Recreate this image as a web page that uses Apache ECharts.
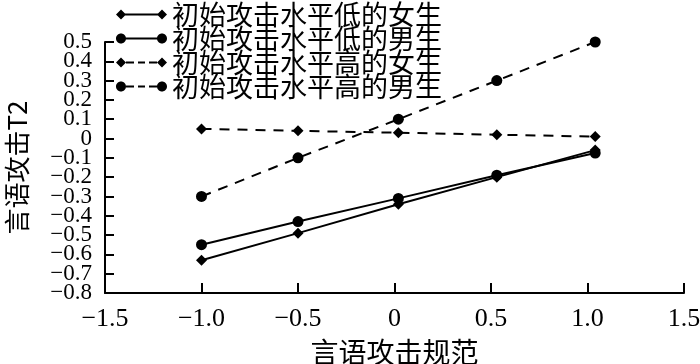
<!DOCTYPE html>
<html>
<head>
<meta charset="utf-8">
<script src="https://cdn.jsdelivr.net/npm/echarts@6/dist/echarts.min.js"></script>
<style>html,body{margin:0;padding:0;background:#fff}#c{width:700px;height:364px}</style>
</head>
<body>
<div id="c"></div>
<script>
// ---- data ----
const seriesNames = ['初始攻击水平低的女生', '初始攻击水平低的男生', '初始攻击水平高的女生', '初始攻击水平高的男生'];
const xValues = [-1.0, -0.5, 0.02, 0.53, 1.04];
const lowFemale = [-0.63, -0.49, -0.34, -0.20, -0.06];
const lowMale = [-0.55, -0.43, -0.31, -0.19, -0.075];
const highFemale = [0.05, 0.04, 0.03, 0.02, 0.01];
const highMale = [-0.30, -0.10, 0.10, 0.30, 0.50];
const xTickLabels = ['−1.5', '−1.0', '−0.5', '0', '0.5', '1.0', '1.5'];
const yTickLabels = ['−0.8', '−0.7', '−0.6', '−0.5', '−0.4', '−0.3', '−0.2', '−0.1', '0', '0.1', '0.2', '0.3', '0.4', '0.5'];
const xAxisName = '言语攻击规范';
const yAxisName = '言语攻击T2';

// ---- styles ----
const X_MIN = -1.5, X_MAX = 1.5, X_INT = 0.5;
const Y_MIN = -0.8, Y_MAX = 0.5, Y_INT = 0.1;
const serif = '"Liberation Serif", "Times New Roman", serif';
const cjk = '"Noto Sans CJK SC", "Liberation Serif", serif';

const circL = 'M0 5C0 2.24 2.24 0 5 0C7.76 0 10 2.24 10 5C10 7.76 7.76 10 5 10C2.24 10 0 7.76 0 5Z';
const circR = ' M41 5C41 2.24 43.24 0 46 0C48.76 0 51 2.24 51 5C51 7.76 48.76 10 46 10C43.24 10 41 7.76 41 5Z';
const diaLR = 'M0 5L5 0L10 5L5 10Z M41 5L46 0L51 5L46 10Z';
const solidBar = ' M9 4L42 4L42 6L9 6Z';
const dashes = ' M10 4L18 4L18 6L10 6Z M22 4L29 4L29 6L22 6Z M33 4L41 4L41 6L33 6Z';
const iconDiamondSolid = 'path://' + diaLR + solidBar;
const iconCircleSolid = 'path://' + circL + circR + solidBar;
const iconDiamondDash = 'path://' + diaLR + dashes;
const iconCircleDash = 'path://' + circL + circR + dashes;

function zip(ys) { return xValues.map((x, i) => [x, ys[i]]); }
function fmt(labels, min, step, parity) {
  return v => {
    const i = Math.round((v - min) / step);
    if (parity !== undefined && i % 2 !== parity) return '';
    return labels[i] ?? '';
  };
}

const seriesDefs = [
  { name: seriesNames[0], data: lowFemale, symbol: 'diamond', size: 11, dash: 'solid', icon: iconDiamondSolid },
  { name: seriesNames[1], data: lowMale, symbol: 'circle', size: 11, dash: 'solid', icon: iconCircleSolid },
  { name: seriesNames[2], data: highFemale, symbol: 'diamond', size: 11, dash: [10, 8], icon: iconDiamondDash },
  { name: seriesNames[3], data: highMale, symbol: 'circle', size: 11, dash: [10, 8], icon: iconCircleDash }
];

const yLabelStyle = { fontSize: 23, color: '#000', fontFamily: serif, margin: 13, hideOverlap: false, showMinLabel: true, showMaxLabel: true };

const chart = echarts.init(document.getElementById('c'), null, { renderer: 'canvas' });
chart.setOption({
  animation: false,
  backgroundColor: '#fff',
  grid: { left: 105, right: 16, top: 42, bottom: 71, containLabel: false, outerBoundsMode: 'none' },
  legend: {
    orient: 'vertical',
    left: 116,
    top: 1,
    padding: 0,
    itemWidth: 51,
    itemHeight: 10,
    itemGap: -3,
    selectedMode: false,
    itemStyle: { color: '#000', borderWidth: 0 },
    textStyle: { fontSize: 27, color: '#000', fontFamily: cjk },
    data: seriesDefs.map(s => ({ name: s.name, icon: s.icon }))
  },
  xAxis: {
    type: 'value',
    min: X_MIN, max: X_MAX, interval: X_INT,
    name: xAxisName,
    nameLocation: 'middle',
    nameGap: 45,
    nameTextStyle: { fontSize: 28, color: '#000', fontFamily: cjk },
    axisLine: { show: true, onZero: false, lineStyle: { color: '#000', width: 2 } },
    axisTick: { show: true, inside: true, length: 10, lineStyle: { color: '#000', width: 2 } },
    axisLabel: { formatter: fmt(xTickLabels, X_MIN, X_INT), fontSize: 26, color: '#000', fontFamily: serif, margin: 13, showMinLabel: true, showMaxLabel: true },
    splitLine: { show: false }
  },
  yAxis: [
    {
      type: 'value',
      min: Y_MIN, max: Y_MAX, interval: Y_INT,
      position: 'left',
      name: yAxisName,
      nameLocation: 'middle',
      nameGap: 75,
      nameRotate: 90,
      nameTextStyle: { fontSize: 26, color: '#000', fontFamily: cjk },
      axisLine: { show: true, onZero: false, lineStyle: { color: '#000', width: 2 } },
      axisTick: { show: true, inside: true, length: 9, lineStyle: { color: '#000', width: 2 } },
      axisLabel: Object.assign({ formatter: fmt(yTickLabels, Y_MIN, Y_INT, 0) }, yLabelStyle),
      splitLine: { show: false }
    },
    {
      type: 'value',
      min: Y_MIN, max: Y_MAX, interval: Y_INT,
      position: 'left',
      offset: 0,
      axisLine: { show: false, onZero: false },
      axisTick: { show: false },
      axisLabel: Object.assign({ formatter: fmt(yTickLabels, Y_MIN, Y_INT, 1) }, yLabelStyle),
      splitLine: { show: false }
    }
  ],
  series: seriesDefs.map(s => ({
    name: s.name,
    type: 'line',
    yAxisIndex: 0,
    data: zip(s.data),
    symbol: s.symbol,
    symbolSize: s.size,
    showSymbol: true,
    clip: false,
    color: '#000',
    itemStyle: { color: '#000', borderWidth: 0 },
    lineStyle: { color: '#000', width: 2, type: s.dash },
    emphasis: { disabled: true }
  }))
});
</script>
</body>
</html>
